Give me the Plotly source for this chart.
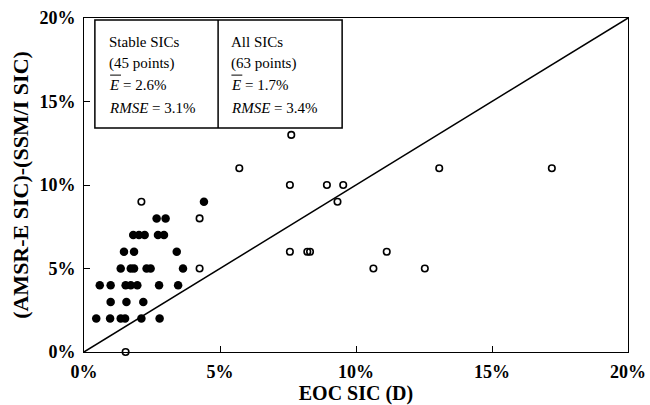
import plotly.graph_objects as go

# Stable SICs (filled), x = EOC SIC (D) %, y = (AMSR-E SIC)-(SSM/I SIC) %
stable_x = [4.41, 2.67, 3.00, 1.81, 2.02, 2.23, 2.72, 2.94, 1.47, 1.84, 3.41,
            1.35, 1.72, 1.84, 2.30, 2.45, 3.64,
            0.58, 0.98, 1.53, 1.72, 1.96, 2.76, 3.46,
            0.98, 1.56, 2.18,
            0.45, 0.96, 1.35, 1.51, 2.11, 2.78]
stable_y = [9, 8, 8, 7, 7, 7, 7, 7, 6, 6, 6,
            5, 5, 5, 5, 5, 5,
            4, 4, 4, 4, 4, 4, 4,
            3, 3, 3,
            2, 2, 2, 2, 2, 2]

# Other SICs (open)
other_x = [2.11, 4.25, 4.25, 5.71, 7.62, 7.57, 8.93, 9.53, 9.32,
           13.06, 17.2, 11.13, 10.64, 12.53, 7.57, 8.21, 8.31, 1.53]
other_y = [9, 8, 5, 11, 13, 10, 10, 10, 9,
           11, 11, 6, 5, 5, 6, 6, 6, 0]

diag_x = [0, 20]
diag_y = [0, 20]

tick_vals = [0, 5, 10, 15, 20]
tick_text = ["0%", "5%", "10%", "15%", "20%"]

FONT = "Liberation Serif"

fig = go.Figure()
fig.add_trace(go.Scatter(x=diag_x, y=diag_y, mode="lines",
                         line=dict(color="black", width=1.5),
                         hoverinfo="skip", showlegend=False))
fig.add_trace(go.Scatter(x=other_x, y=other_y, mode="markers",
                         marker=dict(symbol="circle-open", size=6.5, color="black",
                                     line=dict(width=1.6, color="black")),
                         showlegend=False, cliponaxis=False))
fig.add_trace(go.Scatter(x=stable_x, y=stable_y, mode="markers",
                         marker=dict(symbol="circle", size=8.5, color="black"),
                         showlegend=False, cliponaxis=False))

# Statistics box
fig.add_shape(type="rect", xref="x", yref="y", x0=0.40, x1=9.49, y0=13.41, y1=19.88,
              line=dict(color="black", width=1.5), fillcolor="white", layer="below")
fig.add_shape(type="line", xref="x", yref="y", x0=4.93, x1=4.93, y0=13.41, y1=19.88,
              line=dict(color="black", width=1.5))
# overline bars above E
for bx0, bx1 in [(0.96, 1.36), (5.42, 5.82)]:
    fig.add_shape(type="line", xref="x", yref="y", x0=bx0, x1=bx1, y0=16.58, y1=16.58,
                  line=dict(color="black", width=1))

ann_font = dict(family=FONT, size=15, color="black")
lines_left = ["Stable SICs", "(45 points)", "<i>E</i> = 2.6%", "<i>RMSE</i> = 3.1%"]
lines_right = ["All SICs", "(63 points)", "<i>E</i> = 1.7%", "<i>RMSE</i> = 3.4%"]
line_y = [18.58, 17.29, 15.99, 14.61]
for txt, yy in zip(lines_left, line_y):
    fig.add_annotation(x=0.85, y=yy, xref="x", yref="y", text=txt, showarrow=False,
                       xanchor="left", yanchor="middle", font=ann_font)
for txt, yy in zip(lines_right, line_y):
    fig.add_annotation(x=5.33, y=yy, xref="x", yref="y", text=txt, showarrow=False,
                       xanchor="left", yanchor="middle", font=ann_font)

axis_common = dict(range=[0, 20], tickvals=tick_vals, ticktext=tick_text,
                   ticks="inside", ticklen=6, tickwidth=1, tickcolor="black",
                   showline=True, linecolor="black", linewidth=1, mirror=True,
                   showgrid=False, zeroline=False,
                   tickfont=dict(family=FONT, size=18, color="black", weight="bold"))

fig.update_xaxes(**axis_common, ticklabelstandoff=3,
                 title=dict(text="EOC SIC (D)", standoff=1,
                            font=dict(family=FONT, size=20, color="black", weight="bold")))
fig.update_yaxes(**axis_common, ticklabelstandoff=4,
                 title=dict(text="(AMSR-E SIC)-(SSM/I SIC)", standoff=4,
                            font=dict(family=FONT, size=22, color="black", weight="bold")))

fig.update_layout(width=650, height=405,
                  margin=dict(l=84, r=22, t=18, b=53, autoexpand=False),
                  paper_bgcolor="white", plot_bgcolor="white")

fig.write_html("out.html")
